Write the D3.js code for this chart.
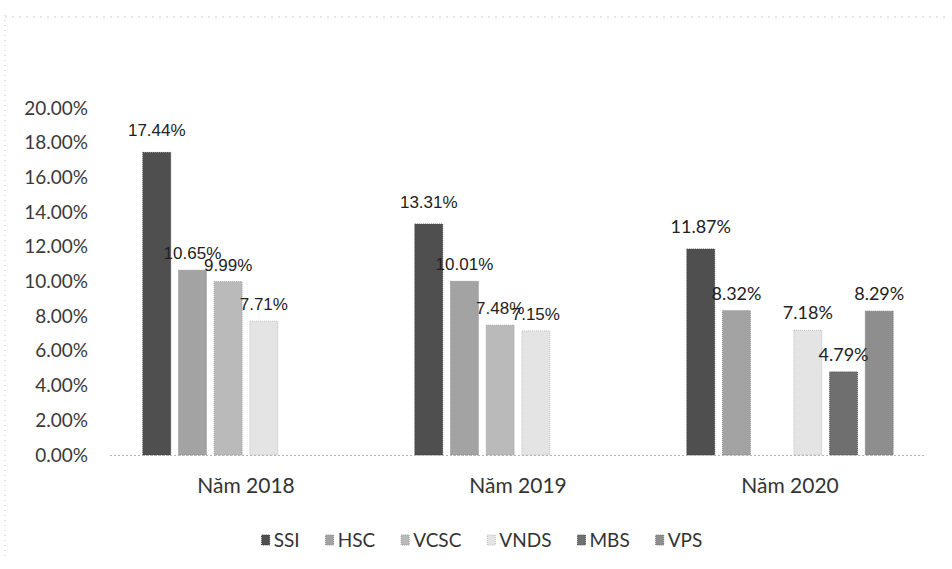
<!DOCTYPE html>
<html>
<head>
<meta charset="utf-8">
<script src="https://cdn.jsdelivr.net/npm/d3@7"></script>
<style>
  html, body { margin: 0; padding: 0; background: #ffffff; }
  svg { display: block; }
</style>
</head>
<body>
<svg id="chart" width="952" height="569"></svg>
<script>
// ---- data ----
const categories = ["Năm 2018", "Năm 2019", "Năm 2020"];
const seriesNames = ["SSI", "HSC", "VCSC", "VNDS", "MBS", "VPS"];
const ssiValues  = [17.44, 13.31, 11.87];
const hscValues  = [10.65, 10.01, 8.32];
const vcscValues = [9.99, 7.48, null];
const vndsValues = [7.71, 7.15, 7.18];
const mbsValues  = [null, null, 4.79];
const vpsValues  = [null, null, 8.29];
const yTickValues = [0, 2, 4, 6, 8, 10, 12, 14, 16, 18, 20];

const seriesValues = [ssiValues, hscValues, vcscValues, vndsValues, mbsValues, vpsValues];
const colors = ["#4f4f4f", "#a3a3a3", "#bababa", "#e4e4e4", "#6f6f6f", "#8e8e8e"];
const strokes = ["#3a3a3a", "#8a8a8a", "#9c9c9c", "#bdbdbd", "#575757", "#747474"];
const labelFonts = ["'Liberation Sans', Arial, sans-serif", "'Liberation Sans', Arial, sans-serif", "Lato, sans-serif"];
const labelSizes = [17, 17, 18];

const svg = d3.select("#chart");

// faint scan border lines
svg.append("line").attr("x1", 5).attr("x2", 5).attr("y1", 15).attr("y2", 560)
  .attr("stroke", "#c8c8c8").attr("stroke-width", 1).attr("stroke-dasharray", "1,4");
svg.append("line").attr("x1", 5).attr("x2", 945).attr("y1", 17).attr("y2", 17)
  .attr("stroke", "#d0d0d0").attr("stroke-width", 1).attr("stroke-dasharray", "2,5");

const y = d3.scaleLinear().domain([0, 20]).range([455, 108]);
const x0 = d3.scaleBand().domain(categories).range([110, 926]).paddingInner(0).paddingOuter(0);
const x1 = d3.scaleBand().domain(seriesNames).range([0, x0.bandwidth()]).paddingInner(0.22).paddingOuter(0.92);

// y axis labels
const yAxis = d3.axisLeft(y).tickValues(yTickValues).tickSize(0).tickPadding(3)
  .tickFormat(d => d.toFixed(2) + "%");
const yg = svg.append("g").attr("transform", "translate(91,0)").call(yAxis);
yg.select(".domain").remove();
yg.selectAll("text").attr("font-family", "Lato, sans-serif").attr("font-size", 19).attr("fill", "#3a3a3a");

// bars
const data = [];
categories.forEach((c, ci) => {
  seriesNames.forEach((s, si) => {
    const v = seriesValues[si][ci];
    if (v !== null) data.push({ cat: c, ci: ci, series: s, si: si, value: v });
  });
});

svg.append("g").selectAll("rect").data(data).join("rect")
  .attr("x", d => x0(d.cat) + x1(d.series))
  .attr("y", d => y(d.value))
  .attr("width", x1.bandwidth())
  .attr("height", d => y(0) - y(d.value))
  .attr("fill", d => colors[d.si])
  .attr("stroke", d => strokes[d.si])
  .attr("stroke-width", 1)
  .attr("stroke-dasharray", "1,1");

// x axis baseline (dotted)
svg.append("line").attr("x1", 110).attr("x2", 926).attr("y1", y(0) + 0.5).attr("y2", y(0) + 0.5)
  .attr("stroke", "#b5b5b5").attr("stroke-width", 1).attr("stroke-dasharray", "2,2");

// data labels
svg.append("g").selectAll("text").data(data).join("text")
  .attr("x", d => x0(d.cat) + x1(d.series) + x1.bandwidth() / 2)
  .attr("y", d => y(d.value) - (d.si === 0 ? 16 : 11))
  .attr("text-anchor", "middle")
  .attr("font-family", d => labelFonts[d.ci])
  .attr("font-size", d => labelSizes[d.ci])
  .attr("fill", "#222")
  .text(d => d.value.toFixed(2) + "%");

// x axis labels
const xAxis = d3.axisBottom(x0).tickSize(0).tickPadding(0);
const xg = svg.append("g").attr("transform", "translate(0,455)").call(xAxis);
xg.select(".domain").remove();
xg.selectAll("text").attr("y", 38).attr("dy", 0)
  .attr("font-family", "Lato, sans-serif").attr("font-size", 21).attr("fill", "#333");

// legend
const legend = svg.append("g");
const items = legend.selectAll("g").data(seriesNames).join("g");
items.append("rect").attr("width", 8).attr("height", 10).attr("y", -5)
  .attr("fill", (d, i) => colors[i]).attr("stroke", (d, i) => strokes[i]).attr("stroke-dasharray", "1,1");
items.append("text").attr("x", 12).attr("y", 7)
  .attr("font-family", "Lato, sans-serif").attr("font-size", 19).attr("fill", "#333")
  .text(d => d);
let cx = 0;
const positions = [];
items.each(function () {
  const w = 12 + this.querySelector("text").getComputedTextLength();
  positions.push(cx);
  cx += w + 26;
});
const total = cx - 26;
const startX = 482 - total / 2;
items.attr("transform", (d, i) => `translate(${startX + positions[i]},540)`);
</script>
</body>
</html>
